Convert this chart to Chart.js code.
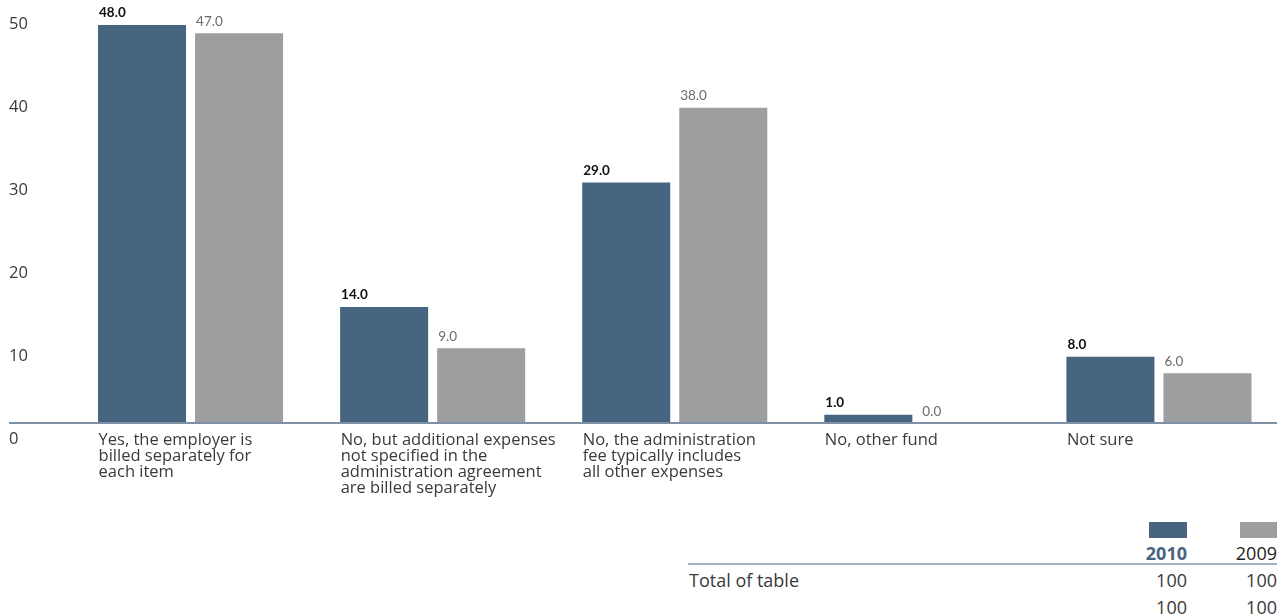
<!DOCTYPE html>
<html>
<head>
<meta charset="utf-8">
<script src="https://cdn.jsdelivr.net/npm/chart.js@4/dist/chart.umd.min.js"></script>
<style>
  html, body { margin: 0; padding: 0; background: #fff; overflow: hidden; width: 1277px; height: 616px; }
  #wrap { position: absolute; left: 0; top: 0; width: 1280px; height: 510px; }
  .t { position: absolute; font-family: "Open Sans", Lato, sans-serif; color: #3a3a3a; white-space: nowrap; line-height: 1; }
  .r { transform: translate(-100%, -50%); }
  .l { transform: translate(0, -50%); }
  .sw { position: absolute; width: 38px; height: 16px; }
  .rule { position: absolute; height: 2px; background: #a3b2c0; }
</style>
</head>
<body>
<div id="wrap"><canvas id="c"></canvas></div>
<div id="table"></div>
<script>
// Answer categories (multi-line axis labels)
const categories = [
  ["Yes, the employer is", "billed separately for", "each item"],
  ["No, but additional expenses", "not specified in the", "administration agreement", "are billed separately"],
  ["No, the administration", "fee typically includes", "all other expenses"],
  ["No, other fund"],
  ["Not sure"]
];
const seriesNames = ["2010", "2009"];
const values2010 = [48, 14, 29, 1, 8];
const values2009 = [47, 9, 38, 0, 6];
const yTickValues = [0, 10, 20, 30, 40, 50];

// Summary table under the chart
const tableRowLabels = ["Total of table", ""];
const totals2010 = [100, 100];
const totals2009 = [100, 100];

const COL_2010 = "#476580";
const COL_2009 = "#9d9ea0";
const FONT = "'Open Sans', Lato, sans-serif";
const VALUE_FONT = "Lato, 'Open Sans', sans-serif";

// Full-width baseline at zero
const baselinePlugin = {
  id: "baseline",
  afterDatasetsDraw(chart) {
    const ctx = chart.ctx;
    const y = chart.scales.y.getPixelForValue(0);
    ctx.save();
    ctx.strokeStyle = "#7e90a3";
    ctx.lineWidth = 2;
    ctx.beginPath();
    ctx.moveTo(9, y);
    ctx.lineTo(chart.width, y);
    ctx.stroke();
    ctx.restore();
  }
};

// Value labels above each bar, left aligned to the bar
const valueLabelPlugin = {
  id: "valueLabels",
  afterDatasetsDraw(chart) {
    const ctx = chart.ctx;
    ctx.save();
    ctx.textAlign = "left";
    ctx.textBaseline = "bottom";
    chart.data.datasets.forEach((ds, i) => {
      const meta = chart.getDatasetMeta(i);
      meta.data.forEach((bar, j) => {
        const v = ds.data[j];
        ctx.font = (i === 0 ? "bold " : "") + "13.5px " + VALUE_FONT;
        ctx.fillStyle = i === 0 ? "#111" : "#6a6a6a";
        ctx.fillText(v.toFixed(1), bar.x - bar.width / 2 + 1, bar.y - 5);
      });
    });
    ctx.restore();
  }
};

new Chart(document.getElementById("c"), {
  type: "bar",
  data: {
    labels: categories,
    datasets: [
      { label: seriesNames[0], data: values2010, backgroundColor: COL_2010 },
      { label: seriesNames[1], data: values2009, backgroundColor: COL_2009 }
    ]
  },
  options: {
    responsive: true,
    maintainAspectRatio: false,
    animation: false,
    layout: { padding: { left: 9, right: 0, top: 0, bottom: 0 } },
    categoryPercentage: 0.8017,
    barPercentage: 0.907,
    plugins: { legend: { display: false }, tooltip: { enabled: false } },
    scales: {
      x: {
        grid: { display: false, drawTicks: false },
        border: { display: false },
        ticks: {
          align: "start",
          labelOffset: -92,
          padding: 9,
          maxRotation: 0,
          autoSkip: false,
          color: "#3a3a3a",
          font: { family: FONT, size: 16.5, lineHeight: "16px" }
        },
        afterFit(scale) {
          scale.height = 87;
          scale.paddingLeft = 0;
          scale.paddingRight = 0;
        }
      },
      y: {
        min: 0,
        max: 51,
        grid: { display: false, drawTicks: false },
        border: { display: false },
        afterBuildTicks(scale) {
          scale.ticks = yTickValues.map(v => ({ value: v }));
        },
        ticks: {
          crossAlign: "far",
          labelOffset: 16,
          padding: 0,
          color: "#3a3a3a",
          font: { family: FONT, size: 16.5 }
        },
        afterFit(scale) {
          scale.width = 60.5;
          scale.paddingTop = 0;
          scale.paddingBottom = 0;
        }
      }
    }
  },
  plugins: [baselinePlugin, valueLabelPlugin]
});

// Build summary table
(function () {
  const host = document.getElementById("table");
  const col1 = 1187, col2 = 1277;
  function add(html) { host.insertAdjacentHTML("beforeend", html); }
  add(`<div class="sw" style="left:1149px;top:522px;background:${COL_2010}"></div>`);
  add(`<div class="sw" style="left:1240px;top:522px;width:40px;background:${COL_2009}"></div>`);
  add(`<div class="t r" style="left:${col1}px;top:553px;font-size:18px;font-weight:bold;color:${COL_2010}">${seriesNames[0]}</div>`);
  add(`<div class="t r" style="left:${col2}px;top:553px;font-size:18px;color:#222">${seriesNames[1]}</div>`);
  add(`<div class="rule" style="left:688px;top:563px;width:589px"></div>`);
  const rowY = [580, 607];
  tableRowLabels.forEach((lab, i) => {
    if (lab) add(`<div class="t l" style="left:689px;top:${rowY[i]}px;font-size:18px">${lab}</div>`);
    add(`<div class="t r" style="left:${col1}px;top:${rowY[i]}px;font-size:18px">${totals2010[i]}</div>`);
    add(`<div class="t r" style="left:${col2}px;top:${rowY[i]}px;font-size:18px">${totals2009[i]}</div>`);
  });
})();
</script>
</body>
</html>
